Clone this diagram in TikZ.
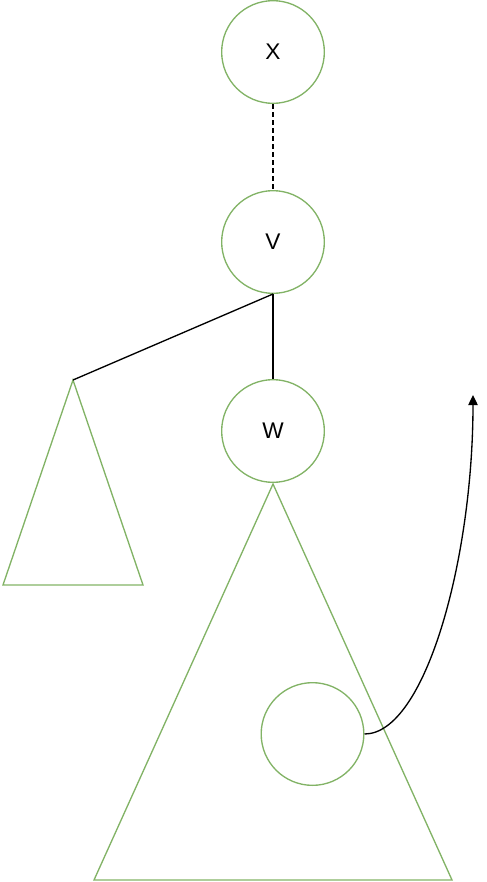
\documentclass[tikz,border=0pt]{standalone}
\usepackage{fontspec}
\setmainfont{Liberation Sans}
\usetikzlibrary{arrows.meta}
\definecolor{leafgreen}{HTML}{82B366}
\begin{document}
\begin{tikzpicture}[x=0.75pt,y=-0.75pt,line width=1pt,
  vert/.style={circle,draw=leafgreen,minimum size=77pt,inner sep=0pt,font=\fontsize{17}{20}\selectfont},
  subtree/.style={draw=leafgreen,line join=miter}]
\useasboundingbox (0,0) rectangle (486,882);
% vertices
\node[vert] (x) at (273,52) {X};
\node[vert] (v) at (273,242) {V};
\node[vert] (w) at (273,431) {W};
\node[vert] (u) at (312.5,734) {};
% subtrees
\coordinate (lefttop) at (73,380);
\draw[subtree] (lefttop)--(143,585)--(3,585)--cycle;
\coordinate (bigtop) at (273,484);
\draw[subtree] (bigtop)--(452,880)--(94,880)--cycle;
% edges
\draw[dash pattern=on 3.75pt off 2.25pt] (x)--(v);
\draw (v.south)--(lefttop);
\draw (v)--(w);
\coordinate (tip) at (473,395);
\draw[-{Triangle[length=7.5pt,width=7pt]}] (u.east) .. controls (425,734) and (473,560) .. (tip);
\end{tikzpicture}
\end{document}
